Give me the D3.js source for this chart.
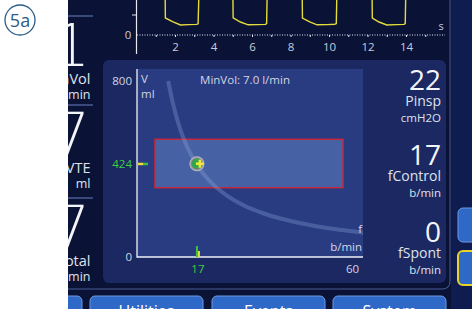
<!DOCTYPE html>
<html>
<head>
<meta charset="utf-8">
<script src="https://cdn.jsdelivr.net/npm/d3@7"></script>
<style>
  body { margin: 0; background: #fff; }
  svg text { font-family: 'Open Sans', sans-serif; }
</style>
</head>
<body>
<div class="canvas"></div>
<script>
// pressure trace on top strip (s, cmH2O)
const waveTime = [0, 1.48, 1.5, 1.9, 2.28, 2.7, 3.12, 3.2, 3.26, 5.0, 5.02, 5.4, 5.8, 6.3, 6.7, 6.76, 6.8, 8.6, 8.62, 9.0, 9.38, 9.9, 10.3, 10.38, 10.42, 12.23, 12.25, 12.6, 13.0, 13.5, 13.9, 13.96, 14.0, 15.8]
const wavePres = [27, 27, 8.5, 6.6, 5.0, 5.2, 5.3, 5.6, 27, 27, 8.6, 6.5, 5.1, 5.2, 5.3, 5.7, 27, 27, 8.5, 6.6, 5.1, 5.2, 5.4, 5.7, 27, 27, 8.5, 6.5, 5.0, 5.2, 5.3, 5.7, 27, 27]
const secTicks = [1, 2, 3, 4, 5, 6, 7, 8, 9, 10, 11, 12, 13, 14, 15]

// loop chart: volume vs rate
const volTicks = [0, 800]
const rateTicks = [60]
const setRate = 17
const setVol = 424
const limitRate = [5, 57.5]
const limitVol = [315, 535]
const isoRate = [8.7, 10, 12, 14, 17, 20, 25, 30, 35, 40, 45, 50, 55, 60, 63.5]
const isoVol = [800, 700, 583, 500, 412, 350, 280, 233, 200, 175, 156, 140, 127, 117, 110]

// side parameter columns
const leftValues = ['7.1', '417', '17']
const leftNames = ['ExpMinVol', 'VTE', 'fTotal']
const leftUnits = ['l/min', 'ml', 'b/min']
const rightValues = ['22', '17', '0']
const rightNames = ['Pinsp', 'fControl', 'fSpont']
const rightUnits = ['cmH2O', 'b/min', 'b/min']
const buttons = ['Utilities', 'Events', 'System']

const W = 472, H = 309
const svg = d3.select('.canvas')
  .append('svg')
    .attr('width', W)
    .attr('height', H)

const defs = svg.append('defs')
defs.append('clipPath').attr('id', 'screen')
  .append('rect').attr('x', 68).attr('y', 0).attr('width', W - 68).attr('height', H)
defs.append('clipPath').attr('id', 'top')
  .append('rect').attr('x', 137).attr('y', 0).attr('width', 310).attr('height', 55)
defs.append('clipPath').attr('id', 'plot')
  .append('rect').attr('x', 137).attr('y', 69).attr('width', 226).attr('height', 188)
const grad = defs.append('radialGradient').attr('id', 'ring')
grad.append('stop').attr('offset', '55%').attr('stop-color', '#5a5e66')
grad.append('stop').attr('offset', '100%').attr('stop-color', '#c4c6ca')

// circled step label
svg.append('circle')
  .attr('cx', 20).attr('cy', 20).attr('r', 15)
  .attr('fill', 'none').attr('stroke', '#2b5b86').attr('stroke-width', 1.3)
svg.append('text')
  .attr('x', 20).attr('y', 26.5)
  .attr('text-anchor', 'middle')
  .attr('font-size', 18)
  .attr('fill', '#2b5b86')
  .text('5a')

const screen = svg.append('g').attr('clip-path', 'url(#screen)')
screen.append('rect')
  .attr('x', 68).attr('y', 0).attr('width', W - 68).attr('height', H)
  .attr('fill', '#0a1236')
screen.append('rect')
  .attr('x', 451).attr('y', 0).attr('width', 21).attr('height', H)
  .attr('fill', '#0e1c50')
// frame round the centre area
screen.append('path')
  .attr('d', 'M450,0 V281 Q450,289 442,289 H60')
  .attr('fill', 'none').attr('stroke', '#4b5d96').attr('stroke-width', 1)

// ---- top waveform strip
const tScale = d3.scaleLinear().domain([0, 16]).range([136.5, 444.5])
const pScale = d3.scaleLinear().domain([0, 10]).range([35, 15])

screen.append('line')
  .attr('x1', 136.5).attr('x2', 136.5).attr('y1', 0).attr('y2', 54)
  .attr('stroke', '#e6e8f0').attr('stroke-width', 1.2)
screen.append('line')
  .attr('x1', 132).attr('x2', 136.5).attr('y1', pScale(10)).attr('y2', pScale(10))
  .attr('stroke', '#e6e8f0')
screen.append('line')
  .attr('x1', 137).attr('x2', 445).attr('y1', pScale(0)).attr('y2', pScale(0))
  .attr('stroke', '#e6e8f0').attr('stroke-dasharray', '1,1.5')

const tAxis = screen.append('g')
  .attr('transform', `translate(0 ${pScale(0)})`)
  .call(d3.axisBottom(tScale)
    .tickValues(secTicks)
    .tickSize(2)
    .tickPadding(6)
    .tickFormat(d => d % 2 === 0 ? d : ''))
tAxis.select('.domain').remove()
tAxis.selectAll('line').attr('stroke', '#e6e8f0')
tAxis.selectAll('text').attr('fill', '#c9cddd').attr('font-size', 11.5)

screen.append('text')
  .attr('x', 128).attr('y', pScale(0) + 4)
  .attr('text-anchor', 'middle').attr('font-size', 11.5).attr('fill', '#c9cddd')
  .text('0')
screen.append('text')
  .attr('x', 441).attr('y', 30)
  .attr('text-anchor', 'middle').attr('font-size', 11).attr('fill', '#c9cddd')
  .text('s')

const wave = d3.line()
  .x(d => tScale(d[0]))
  .y(d => pScale(d[1]))
screen.append('path')
  .attr('clip-path', 'url(#top)')
  .datum(waveTime.map((t, i) => [t, wavePres[i]]))
  .attr('d', wave)
  .attr('fill', 'none')
  .attr('stroke', '#e4dc3c')
  .attr('stroke-width', 1.4)

// ---- left parameter cells
const cellTop = [16, 105, 198]
cellTop.forEach((top, i) => {
  screen.append('line')
    .attr('x1', 60).attr('x2', 93).attr('y1', top).attr('y2', top)
    .attr('stroke', '#4a5c94').attr('stroke-width', 1.5)
  screen.append('text')
    .attr('x', 90).attr('y', top + 50)
    .attr('text-anchor', 'end').attr('font-size', 58).attr('font-weight', 200)
    .style('font-family', "'DejaVu Sans', sans-serif")
    .attr('fill', '#f4f5f8')
    .text(leftValues[i])
  screen.append('text')
    .attr('x', 90.5).attr('y', top + 68)
    .attr('text-anchor', 'end').attr('font-size', 14.5).attr('fill', '#dfe2ea')
    .text(leftNames[i])
  screen.append('text')
    .attr('x', 90.5).attr('y', top + 83)
    .attr('text-anchor', 'end').attr('font-size', 12.5).attr('fill', '#dfe2ea')
    .text(leftUnits[i])
})

// ---- main panel
screen.append('rect')
  .attr('x', 103).attr('y', 60).attr('width', 343).attr('height', 223)
  .attr('rx', 6)
  .attr('fill', '#1b2862')

const x = d3.scaleLinear().domain([0, 60]).range([137, 352])
const y = d3.scaleLinear().domain([0, 800]).range([257, 81])

screen.append('rect')
  .attr('x', 137).attr('y', 69).attr('width', 226).attr('height', 188)
  .attr('fill', '#293c82')

// limit box
screen.append('rect')
  .attr('x', x(limitRate[0]))
  .attr('y', y(limitVol[1]))
  .attr('width', x(limitRate[1]) - x(limitRate[0]))
  .attr('height', y(limitVol[0]) - y(limitVol[1]))
  .attr('fill', '#4762a4')
  .attr('stroke', '#c4283c')
  .attr('stroke-width', 1.5)

// iso minute volume line
const iso = d3.line()
  .x(d => x(d[0]))
  .y(d => y(d[1]))
  .curve(d3.curveMonotoneX)
screen.append('path')
  .attr('clip-path', 'url(#plot)')
  .datum(isoRate.map((f, i) => [f, isoVol[i]]))
  .attr('d', iso)
  .attr('fill', 'none')
  .attr('stroke', '#8fa8dc')
  .attr('stroke-opacity', 0.32)
  .attr('stroke-width', 4)

// axes
const yAxis = screen.append('g')
  .attr('transform', 'translate(137 0)')
  .call(d3.axisLeft(y).tickValues(volTicks).tickSize(0).tickPadding(5))
const xAxis = screen.append('g')
  .attr('transform', 'translate(0 257)')
  .call(d3.axisBottom(x).tickValues(rateTicks).tickSize(0).tickPadding(8))
;[yAxis, xAxis].forEach(ax => {
  ax.select('.domain').remove()
  ax.selectAll('text').attr('fill', '#d3d6e2').attr('font-size', 11.5)
})
screen.append('path')
  .attr('d', 'M137,69 V257 H363')
  .attr('fill', 'none').attr('stroke', '#eef0f6').attr('stroke-width', 1.3)

const label = (tx, ty, s, opts = {}) => screen.append('text')
  .attr('x', tx).attr('y', ty)
  .attr('text-anchor', opts.anchor || 'start')
  .attr('font-size', opts.size || 11.5)
  .attr('fill', opts.color || '#d3d6e2')
  .text(s)

label(141, 83, 'V')
label(141, 98, 'ml')
label(245, 84, 'MinVol: 7.0 l/min', { anchor: 'middle' })
label(362, 233, 'f', { anchor: 'end' })
label(362, 251, 'b/min', { anchor: 'end' })

// current setting markers
label(132, y(setVol) + 4, setVol, { anchor: 'end', color: '#3ed13e' })
label(x(setRate), 273, setRate, { anchor: 'middle', color: '#3ed13e' })
screen.append('rect')
  .attr('x', 138).attr('y', y(setVol) - 1).attr('width', 5).attr('height', 2.5)
  .attr('fill', '#e8e03a')
screen.append('rect')
  .attr('x', 143).attr('y', y(setVol) - 1).attr('width', 5).attr('height', 2.5)
  .attr('fill', '#3ec43e')
screen.append('rect')
  .attr('x', x(setRate) - 2).attr('y', 246).attr('width', 2).attr('height', 11)
  .attr('fill', '#3ec43e')
screen.append('rect')
  .attr('x', x(setRate)).attr('y', 251).attr('width', 2).attr('height', 6)
  .attr('fill', '#e8e03a')

const mx = x(setRate) - 1, my = y(setVol)
screen.append('circle')
  .attr('cx', mx).attr('cy', my).attr('r', 7.5)
  .attr('fill', 'url(#ring)')
screen.append('circle')
  .attr('cx', mx).attr('cy', my).attr('r', 5)
  .attr('fill', '#2fa84a')
screen.append('rect')
  .attr('x', mx - 1).attr('y', my - 1.3).attr('width', 8).attr('height', 2.6)
  .attr('fill', '#f0e83a')
screen.append('rect')
  .attr('x', mx + 1.7).attr('y', my - 4).attr('width', 2.6).attr('height', 8)
  .attr('fill', '#f0e83a')

// ---- right parameter column
const rightTop = [90, 165, 242]
rightTop.forEach((base, i) => {
  label(441, base, rightValues[i], { anchor: 'end', size: 28, color: '#f4f5f8' })
  label(441, base + 16, rightNames[i], { anchor: 'end', size: 14, color: '#dfe2ea' })
  label(441, base + 32, rightUnits[i], { anchor: 'end', size: 11.5, color: '#dfe2ea' })
})

// ---- buttons
const btnX = [90, 212, 333]
screen.append('rect')
  .attr('x', 40).attr('y', 296).attr('width', 42).attr('height', 30).attr('rx', 5)
  .attr('fill', '#2e69c8').attr('stroke', '#6f9ade')
buttons.forEach((b, i) => {
  screen.append('rect')
    .attr('x', btnX[i]).attr('y', 296).attr('width', 113).attr('height', 30).attr('rx', 5)
    .attr('fill', '#2e69c8').attr('stroke', '#6f9ade')
  label(btnX[i] + 56.5, 317, b, { anchor: 'middle', size: 16, color: '#ffffff' })
})
screen.append('rect')
  .attr('x', 458).attr('y', 208).attr('width', 30).attr('height', 34).attr('rx', 5)
  .attr('fill', '#2e69c8').attr('stroke', '#6f9ade')
screen.append('rect')
  .attr('x', 458).attr('y', 251).attr('width', 30).attr('height', 34).attr('rx', 5)
  .attr('fill', '#2e69c8').attr('stroke', '#e6d428').attr('stroke-width', 2)
</script>
</body>
</html>
